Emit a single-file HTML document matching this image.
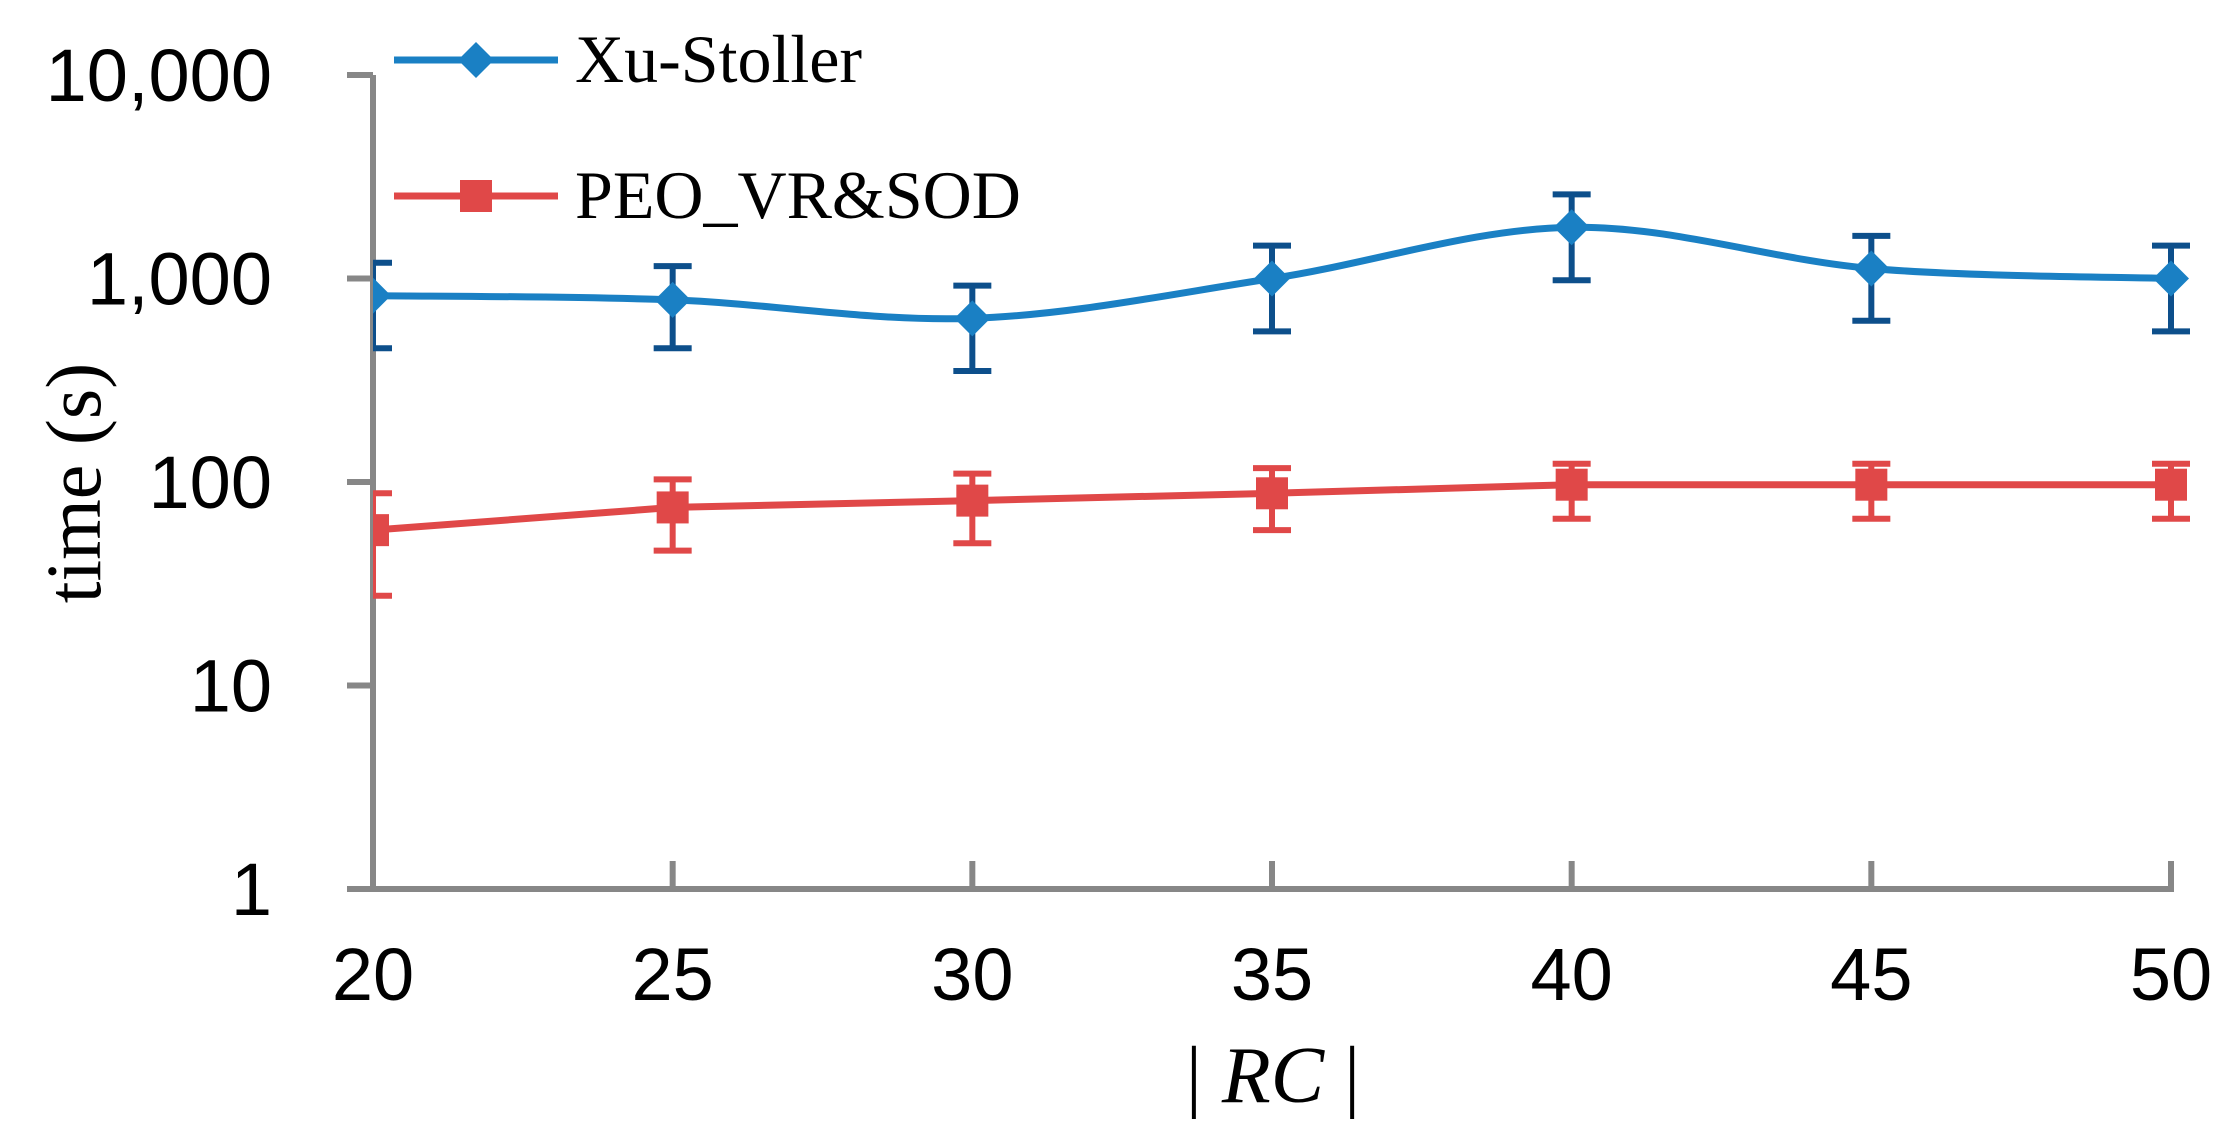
<!DOCTYPE html>
<html><head><meta charset="utf-8"><style>
html,body{margin:0;padding:0;background:#fff;}
svg{display:block;}
</style></head><body>
<svg id="chart" width="2230" height="1129" viewBox="0 0 2230 1129" xmlns="http://www.w3.org/2000/svg">
<defs><clipPath id="plotclip"><rect x="373" y="0" width="1900" height="1129"/></clipPath></defs>
<g id="axes"></g>
<g id="series" clip-path="url(#plotclip)"></g>
<g id="legend"></g>
</svg>
<script>
const categories = [20, 25, 30, 35, 40, 45, 50];
const yTicks = [1, 10, 100, 1000, 10000];
const yTickLabels = ["1", "10", "100", "1,000", "10,000"];
const xuValues = [824, 785, 637, 1000, 1785, 1120, 1000];
const xuUpper = [1195, 1150, 923, 1450, 2590, 1620, 1450];
const xuLower = [454, 454, 351, 550, 980, 620, 550];
const peoValues = [58, 75, 81, 88, 97, 97, 97];
const peoUpper = [88, 103, 110, 117, 123, 123, 123];
const peoLower = [27.6, 46, 50, 58, 66, 66, 66];

const NS = "http://www.w3.org/2000/svg";
const X0 = 373, X1 = 2171, Y1 = 889, DEC = 203.5;
function xs(v){ return X0 + (v - categories[0]) / (categories[categories.length-1] - categories[0]) * (X1 - X0); }
function ys(v){ return Y1 - Math.log10(v) * DEC; }
function mk(tag, attrs, parent){ const e = document.createElementNS(NS, tag); for (const k in attrs) e.setAttribute(k, attrs[k]); parent.appendChild(e); return e; }

const axes = document.getElementById('axes');
const grey = "#878787";
let e;
e = mk('line', {x1:X0, y1:ys(10000), x2:X0, y2:Y1, stroke:grey, 'stroke-width':6}, axes);


e = mk('line', {x1:347, y1:Y1, x2:X1 + 3, y2:Y1, stroke:grey, 'stroke-width':6}, axes);


yTicks.forEach((t, i) => {
  const y = ys(t);
  const tk = mk('line', {x1:347, y1:y, x2:X0, y2:y, stroke:grey, 'stroke-width':6}, axes);
  
  
  const tx = mk('text', {x:272, y:y + 26, 'text-anchor':'end', 'font-family':'Liberation Sans, DejaVu Sans, sans-serif', 'font-size':74, fill:'#000'}, axes);
  tx.textContent = yTickLabels[i];
  
  
});
categories.forEach(c => {
  const x = xs(c);
  const tk = mk('line', {x1:x, y1:Y1 - 28, x2:x, y2:Y1, stroke:grey, 'stroke-width':6}, axes);
  
  
  const tx = mk('text', {x:x, y:1000, 'text-anchor':'middle', 'font-family':'Liberation Sans, DejaVu Sans, sans-serif', 'font-size':74, fill:'#000'}, axes);
  tx.textContent = String(c);
  
  
});
e = mk('text', {x:0, y:0, transform:'translate(100,483) rotate(-90)', 'text-anchor':'middle', 'font-family':'Liberation Serif, serif', 'font-size':78, fill:'#000'}, axes);
e.textContent = 'time (s)';


e = mk('text', {x:1273, y:1102, 'text-anchor':'middle', 'font-family':'Liberation Serif, serif', 'font-size':80, fill:'#000'}, axes);
e.innerHTML = '| <tspan font-style="italic">RC</tspan> |';



const series = document.getElementById('series');
function smoothPath(pts){
  let d = `M${pts[0][0]},${pts[0][1]}`;
  for (let i = 0; i < pts.length - 1; i++){
    const p0 = pts[Math.max(0,i-1)], p1 = pts[i], p2 = pts[i+1], p3 = pts[Math.min(pts.length-1,i+2)];
    const t = 1/6;
    d += ` C${p1[0]+(p2[0]-p0[0])*t},${p1[1]+(p2[1]-p0[1])*t} ${p2[0]-(p3[0]-p1[0])*t},${p2[1]-(p3[1]-p1[1])*t} ${p2[0]},${p2[1]}`;
  }
  return d;
}
function drawSeries(vals, up, lo, lineColor, errColor, marker, smooth, name){
  const g = mk('g', {}, series);
  
  
  categories.forEach((c, i) => {
    const x = xs(c);
    const eb = mk('path', {d:`M${x},${ys(up[i])}V${ys(lo[i])}M${x-19},${ys(up[i])}H${x+19}M${x-19},${ys(lo[i])}H${x+19}`, stroke:errColor, 'stroke-width':6, fill:'none'}, g);
    
    
  });
  const pts = categories.map((c, i) => [xs(c), ys(vals[i])]);
  const d = smooth ? smoothPath(pts) : 'M' + pts.map(p => p.join(',')).join('L');
  const ln = mk('path', {d:d, stroke:lineColor, 'stroke-width':7, fill:'none'}, g);
  
  
  pts.forEach(p => {
    let m;
    if (marker === 'diamond') m = mk('path', {d:`M${p[0]},${p[1]-18}L${p[0]+18},${p[1]}L${p[0]},${p[1]+18}L${p[0]-18},${p[1]}Z`, fill:lineColor}, g);
    else m = mk('rect', {x:p[0]-16, y:p[1]-16, width:32, height:32, fill:lineColor}, g);
    
    
  });
}
drawSeries(xuValues, xuUpper, xuLower, '#1a80c4', '#0d4f8b', 'diamond', true, 'xu-stoller');
drawSeries(peoValues, peoUpper, peoLower, '#e04848', '#e04848', 'square', false, 'peo-vr-sod');

const legend = document.getElementById('legend');
function legendEntry(y, color, marker, label, name){
  const g = mk('g', {}, legend);
  
  
  mk('line', {x1:394, y1:y, x2:558, y2:y, stroke:color, 'stroke-width':7}, g);
  const cx = 476;
  if (marker === 'diamond') mk('path', {d:`M${cx},${y-18}L${cx+18},${y}L${cx},${y+18}L${cx-18},${y}Z`, fill:color}, g);
  else mk('rect', {x:cx-16, y:y-16, width:32, height:32, fill:color}, g);
  const t = mk('text', {x:575, y:y+22, 'font-family':'Liberation Serif, serif', 'font-size':68, fill:'#000'}, g);
  t.textContent = label;
}
legendEntry(60, '#1a80c4', 'diamond', 'Xu-Stoller', 'legend-entry-xu-stoller');
legendEntry(196, '#e04848', 'square', 'PEO_VR&SOD', 'legend-entry-peo-vr-sod');
</script>
</body></html>
